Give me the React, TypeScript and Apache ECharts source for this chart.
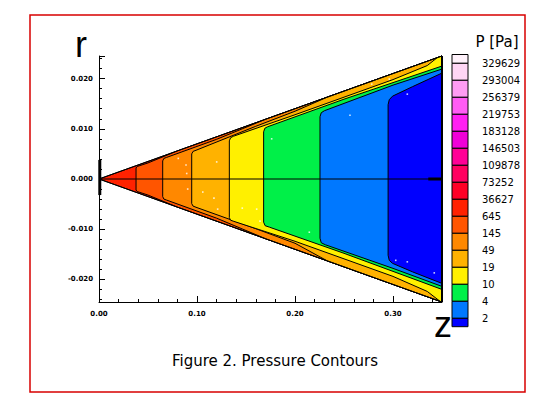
import React, { useEffect, useRef } from "react";
import * as echarts from "echarts";

// ---- axes (data units) ----
const zRange = [0, 0.35];
const rRange = [-0.0245, 0.0245];
const zTickStep = 0.1;
const zMinorStep = 0.02;
const rTickStep = 0.01;
const rMinorStep = 0.002;

// ---- geometry of the cone (data units) ----
const wedgeOutline = [[0.35, 0.0245], [0, 0], [0.35, -0.0245]];
const outletEdge = [[0.35, 0.0245], [0.35, -0.0245]];
const symmetryLine = [[0, 0], [0.35, 0]];
const hubMark = [[0.336, 0], [0.35, 0]];
const apexMesh = [[0.0008, 0.0038], [0.0008, -0.0032]];

// ---- legend ----
const legendTitle = "P [Pa]";
const legendLevels = [329629, 293004, 256379, 219753, 183128, 146503, 109878, 73252, 36627, 645, 145, 49, 19, 10, 4, 2];
const legendColors = [
  "#fff2fb", "#ffd6f5", "#ff9cf3", "#ff5cf4", "#ff1ff2", "#f000d8", "#ff0096", "#ff0060", "#ff0026",
  "#ff2200", "#ff5500", "#ff8800", "#ffb200", "#fff000", "#00f048", "#0078ff", "#0000ff",
];

// ---- contour lines (z, r): top half and bottom half ----
const contourLevels = [645, 145, 49, 19, 10, 4, 2];
const contourTop = [
  [[0.0378, 0], [0.0378, 0.0022], [0.039, 0.0025], [0.05, 0.0032], [0.08, 0.0056]],
  [[0.065, 0], [0.065, 0.0036], [0.0662, 0.0041], [0.069, 0.0043], [0.12, 0.0079], [0.17, 0.0119]],
  [[0.0946, 0], [0.0946, 0.005], [0.096, 0.0055], [0.1, 0.0058], [0.16, 0.0105], [0.2, 0.0135], [0.233, 0.01631]],
  [[0.133, 0], [0.133, 0.0076], [0.1342, 0.0082], [0.137, 0.0085], [0.2, 0.0128], [0.3, 0.0198], [0.335, 0.0226], [0.345, 0.02415]],
  [[0.168, 0], [0.168, 0.0094], [0.1692, 0.0101], [0.172, 0.0104], [0.25, 0.0159], [0.35, 0.0225]],
  [[0.2255, 0], [0.2255, 0.0124], [0.2268, 0.0132], [0.23, 0.0136], [0.3, 0.0187], [0.35, 0.0219]],
  [[0.295, 0], [0.295, 0.0148], [0.2962, 0.0158], [0.2995, 0.0165], [0.32, 0.0184], [0.35, 0.0211]],
];
const contourBottom = [
  [[0.0378, 0], [0.0378, -0.0022], [0.039, -0.0025], [0.05, -0.0032], [0.08, -0.0056]],
  [[0.065, 0], [0.065, -0.0035], [0.0662, -0.004], [0.069, -0.0042], [0.12, -0.0078], [0.17, -0.0119]],
  [[0.0946, 0], [0.0946, -0.0049], [0.096, -0.0054], [0.1, -0.0057], [0.16, -0.0099], [0.2, -0.0128], [0.233, -0.01631]],
  [[0.133, 0], [0.133, -0.0077], [0.1342, -0.0082], [0.137, -0.0084], [0.2, -0.0124], [0.3, -0.0194], [0.335, -0.0224], [0.348, -0.02436]],
  [[0.168, 0], [0.168, -0.0086], [0.1695, -0.0093], [0.174, -0.0096], [0.25, -0.0148], [0.35, -0.022]],
  [[0.2255, 0], [0.2255, -0.0118], [0.2268, -0.0127], [0.231, -0.0131], [0.3, -0.0178], [0.35, -0.0214]],
  [[0.295, 0], [0.295, -0.0152], [0.2962, -0.0162], [0.2995, -0.0168], [0.32, -0.0185], [0.35, -0.0208]],
];

// white mesh nodes visible in the picture
const meshNodes = [
  [0.0809, 0.0041], [0.0888, 0.0028], [0.0895, 0.0011], [0.0905, -0.002], [0.1059, -0.0026],
  [0.1173, -0.0038], [0.1201, 0.0034], [0.1211, -0.006], [0.1462, -0.0058], [0.1609, -0.006],
  [0.1643, -0.0084], [0.2783, 0.0189], [0.2962, 0.0199], [0.3146, 0.0169], [0.2561, 0.0127],
  [0.1762, 0.008], [0.2146, -0.0106], [0.3028, -0.0162], [0.3146, -0.0165], [0.3421, -0.0187],
];

const titleText = "Figure 2. Pressure Contours";
const rName = "r";
const zName = "z";

function buildRegions() {
  const zMax = wedgeOutline[0][0];
  const topCorner = wedgeOutline[0];
  const botCorner = wedgeOutline[2];
  const polys: number[][][] = [wedgeOutline.slice()];
  const colors: string[] = [legendColors[legendLevels.indexOf(contourLevels[0])]];
  contourLevels.forEach((lvl, k) => {
    const top = contourTop[k];
    const bot = contourBottom[k];
    const pts = bot.slice().reverse().concat(top.slice(1));
    if (top[top.length - 1][0] < zMax - 1e-9) pts.push(topCorner);
    if (bot[bot.length - 1][0] < zMax - 1e-9) pts.push(botCorner);
    polys.push(pts);
    colors.push(legendColors[legendLevels.indexOf(lvl) + 1]);
  });
  return { polys, colors };
}

function isMultiple(v: number, step: number) {
  const q = v / step;
  return Math.abs(q - Math.round(q)) < 1e-6;
}

export default function App() {
  const ref = useRef<HTMLDivElement>(null);
  useEffect(() => {
    if (!ref.current) return;
    const chart = echarts.init(ref.current, null, { renderer: "svg" });
    const { polys, colors } = buildRegions();

    // legend layout
    const lgX = 452, lgW = 16, lgTop = 54.5, lgFirst = 63.3, lgStep = 17, lgEnd = 8.4;
    const legendEls: any[] = [];
    const nSw = legendColors.length;
    for (let i = 0; i < nSw; i++) {
      let y0: number, y1: number;
      if (i === 0) { y0 = lgTop; y1 = lgFirst; }
      else if (i === nSw - 1) { y0 = lgFirst + (i - 1) * lgStep; y1 = y0 + lgEnd; }
      else { y0 = lgFirst + (i - 1) * lgStep; y1 = y0 + lgStep; }
      legendEls.push({
        type: "rect",
        shape: { x: lgX, y: y0, width: lgW, height: y1 - y0 },
        style: { fill: legendColors[i], stroke: "#000", lineWidth: 1 },
      });
    }
    legendLevels.forEach((lv, k) => {
      legendEls.push({
        type: "text",
        x: 482,
        y: lgFirst + k * lgStep,
        style: {
          text: String(lv), fill: "#000", fontSize: 10, fontFamily: "DejaVu Sans",
          align: "left", verticalAlign: "middle",
        },
      });
    });

    const axisFont = { color: "#000", fontFamily: "DejaVu Sans", fontWeight: "bold", fontSize: 7 };
    const lineBase = { type: "line", symbol: "none", silent: true, clip: false, animation: false };

    chart.setOption({
      animation: false,
      grid: { left: 99, right: 118, top: 56, bottom: 103, containLabel: false },
      xAxis: [
        {
          type: "value", min: zRange[0], max: zRange[1], interval: zTickStep, position: "bottom",
          axisLine: { show: true, onZero: false, lineStyle: { color: "#000", width: 1 } },
          axisTick: { show: true, inside: true, length: 6, lineStyle: { color: "#000" } },
          axisLabel: { ...axisFont, margin: 8, formatter: (v: number) => (isMultiple(v, zTickStep) ? v.toFixed(2) : "") },
          splitLine: { show: false },
        },
        {
          type: "value", min: zRange[0], max: zRange[1], interval: zMinorStep, position: "bottom",
          axisLine: { show: false, onZero: false },
          axisTick: { show: true, inside: true, length: 3, lineStyle: { color: "#000" } },
          axisLabel: { show: false }, splitLine: { show: false },
        },
      ],
      yAxis: [
        {
          type: "value", min: rRange[0], max: rRange[1], minInterval: rTickStep, maxInterval: rTickStep, position: "left",
          axisLine: { show: true, onZero: false, lineStyle: { color: "#000", width: 1 } },
          axisTick: { show: true, inside: true, length: 6, lineStyle: { color: "#000" } },
          axisLabel: {
            ...axisFont, margin: 6,
            formatter: (v: number) => (isMultiple(v, rTickStep) ? (Math.abs(v) < 1e-9 ? "0.000" : v.toFixed(3)) : ""),
          },
          splitLine: { show: false },
        },
        {
          type: "value", min: rRange[0], max: rRange[1], minInterval: rMinorStep, maxInterval: rMinorStep, position: "left",
          axisLine: { show: false, onZero: false },
          axisTick: { show: true, inside: true, length: 3, lineStyle: { color: "#000" } },
          axisLabel: { show: false }, splitLine: { show: false },
        },
      ],
      series: [
        {
          name: "pressure", type: "custom", coordinateSystem: "cartesian2d", silent: true, clip: false,
          data: polys.map((p) => [p[0][0], p[0][1]]),
          renderItem: (params: any, api: any) => {
            const poly = polys[params.dataIndex];
            return {
              type: "polygon",
              shape: { points: poly.map((pt) => api.coord(pt)) },
              style: { fill: colors[params.dataIndex], stroke: "#000", lineWidth: 1 },
            };
          },
        },
        { ...lineBase, name: "wall", data: wedgeOutline, lineStyle: { color: "#000", width: 1 } },
        { ...lineBase, name: "outlet", data: outletEdge, lineStyle: { color: "#000", width: 2 } },
        { ...lineBase, name: "axis", data: symmetryLine, lineStyle: { color: "#000", width: 1 } },
        { ...lineBase, name: "hub", data: hubMark, lineStyle: { color: "#000", width: 3 } },
        { ...lineBase, name: "apex", data: apexMesh, lineStyle: { color: "#000", width: 3 } },
        {
          type: "scatter", name: "nodes", data: meshNodes, symbol: "rect", symbolSize: 1.6, silent: true, clip: false,
          itemStyle: { color: "#ffffff" },
        },
      ],
      graphic: [
        {
          type: "rect", shape: { x: 30, y: 15, width: 495, height: 377 },
          style: { fill: "none", stroke: "#d80000", lineWidth: 1.5 }, silent: true,
        },
        {
          type: "text", x: 75, y: 44.5,
          style: { text: rName, fill: "#000", fontSize: 36, fontFamily: "Liberation Sans", align: "left", verticalAlign: "middle" },
        },
        {
          type: "text", x: 434, y: 324.5,
          style: { text: zName, fill: "#000", fontSize: 36, fontFamily: "Liberation Sans", align: "left", verticalAlign: "middle" },
        },
        {
          type: "text", x: 275, y: 361,
          style: { text: titleText, fill: "#000", fontSize: 15, fontFamily: "DejaVu Sans", align: "center", verticalAlign: "middle" },
        },
        {
          type: "text", x: 497, y: 42,
          style: { text: legendTitle, fill: "#000", fontSize: 15, fontFamily: "DejaVu Sans", align: "center", verticalAlign: "middle" },
        },
        { type: "group", children: legendEls },
      ],
    });
    return () => chart.dispose();
  }, []);
  return (
    <div
      ref={ref}
      style={{ position: "fixed", left: 0, top: 0, width: 560, height: 405, background: "#fff" }}
    />
  );
}
